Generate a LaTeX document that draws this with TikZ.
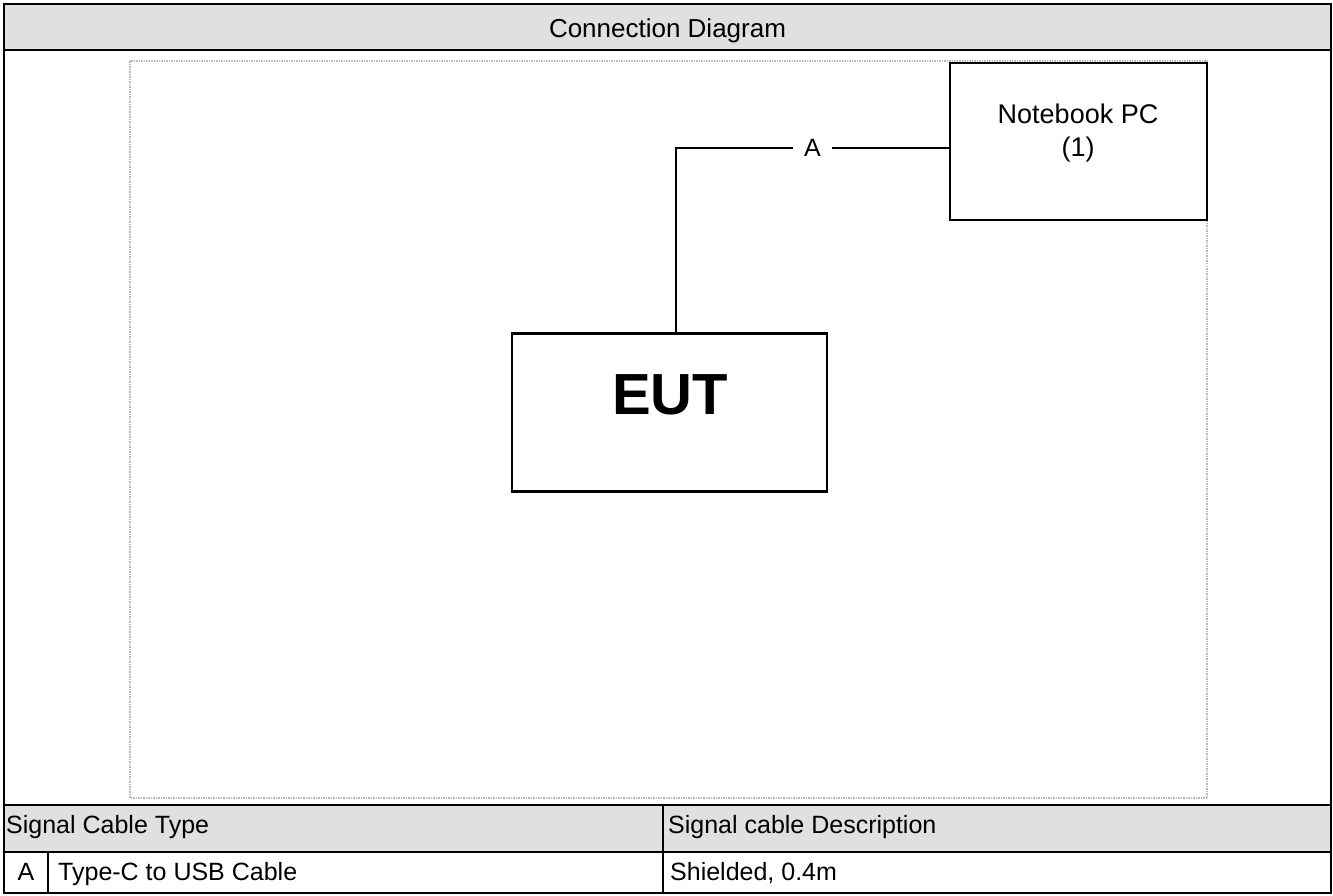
\documentclass[tikz,border=0pt]{standalone}
\usepackage{fontspec}
\setmainfont{Liberation Sans}
\usetikzlibrary{positioning}
\definecolor{headgray}{RGB}{224,224,224}
\definecolor{framegray}{RGB}{185,185,185}

\begin{document}
\begin{tikzpicture}[x=1pt,y=-1pt,
  devbox/.style={draw,line width=2.2pt,inner sep=0pt},
  cable/.style={line width=1.8pt},
  celltext/.style={font=\fontsize{25}{28}\selectfont,inner sep=0pt},
  devtext/.style={font=\fontsize{27}{33}\selectfont,align=center,inner sep=0pt}]
\useasboundingbox (0,0) rectangle (1333,895);
% table background
\fill[headgray] (4,4) rectangle (1331,50);
\fill[headgray] (4,805) rectangle (1331,852);
% table lines
\draw[line width=2.5pt] (4,4) rectangle (1331,893);
\draw[line width=2.5pt] (4,50) -- (1331,50);
\draw[line width=2.5pt] (4,805) -- (1331,805);
\draw[line width=2pt] (4,852) -- (1331,852);
\draw[line width=2pt] (663,805) -- (663,893);
\draw[line width=2pt] (48,852) -- (48,893);
% drawing area
\draw[framegray,densely dotted,line width=1.5pt] (130,61) rectangle (1207,798);

% texts of the table
\node[celltext,font=\fontsize{26}{28}\selectfont,anchor=base] (title) at (667.5,37) {Connection Diagram};
\node[celltext,anchor=base west] (typehead) at (6,833) {Signal Cable Type};
\node[celltext,anchor=base west] (deschead) at (668,833) {Signal cable Description};
\node[celltext,anchor=base] (cableid) at (26,880) {A};
\node[celltext,anchor=base west] (cabletype) at (58,880) {Type-C to USB Cable};
\node[celltext,anchor=base west] (cabledesc) at (670,880) {Shielded, 0.4m};

% devices
\node[devbox,minimum width=315pt,minimum height=158pt] (eut) at (669.5,412.5) {};
\node[font=\fontsize{58}{60}\bfseries\selectfont,inner sep=0pt,anchor=base] (euttext) at (670,414) {EUT};
\node[devbox,minimum width=257pt,minimum height=157pt] (nb) at (1078.5,141.5) {};
\node[devtext,anchor=base] (nbtext) at (1078,156) {Notebook PC\\(1)};

% cable
\coordinate (bend) at (676,148);
\draw[cable] (eut.north -| bend) -- (bend) -- (nb.west |- bend)
  node[midway,fill=white,inner xsep=11pt,inner ysep=0pt,font=\fontsize{25}{28}\selectfont] (cablea) {A};
\end{tikzpicture}
\end{document}
